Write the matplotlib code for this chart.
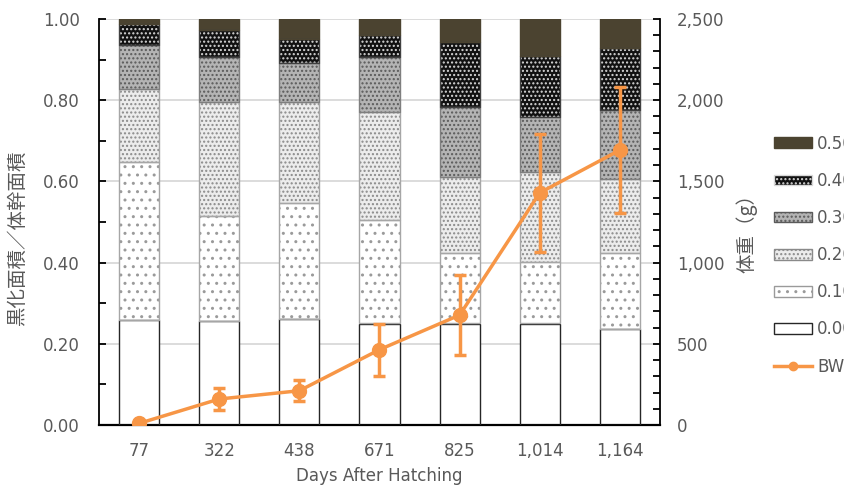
import matplotlib
matplotlib.use("Agg")
import matplotlib.pyplot as plt
import numpy as np
from matplotlib.ticker import MultipleLocator, FuncFormatter
from matplotlib.patches import Patch
from matplotlib.lines import Line2D

plt.rcParams['font.family'] = ['DejaVu Sans', 'Noto Sans CJK JP']
plt.rcParams['hatch.linewidth'] = 1.0

# data
days = ["77", "322", "438", "671", "825", "1,014", "1,164"]
r000 = [0.259, 0.256, 0.261, 0.250, 0.250, 0.250, 0.236]
r010 = [0.389, 0.260, 0.285, 0.255, 0.173, 0.151, 0.187]
r020 = [0.179, 0.280, 0.250, 0.267, 0.187, 0.223, 0.184]
r030 = [0.109, 0.111, 0.095, 0.135, 0.174, 0.135, 0.170]
r040 = [0.051, 0.067, 0.059, 0.054, 0.159, 0.150, 0.151]
r050 = [0.013, 0.026, 0.050, 0.039, 0.057, 0.091, 0.072]
bw = [10, 160, 211, 464, 677, 1430, 1693]
bw_err = [0, 65, 65, 160, 245, 363, 390]

series = [r000, r010, r020, r030, r040, r050]
names = ["0.00", "0.10", "0.20", "0.30", "0.40", "0.50"]
# face colour, hatch colour, hatch
styles = [
    ("white", "white", None),
    ("white", "#9a9a9a", ".."),
    ("#ececec", "#8a8a8a", "...."),
    ("#b4b4b4", "#5a5a5a", "...."),
    ("#111111", "#d8d8d8", "...."),
    ("#4b4330", "#4b4330", None),
]
edges = ["#262626", "#a6a6a6", "#a6a6a6", "#7f7f7f", "#404040", "#4b4330"]

txt = "#595959"
orange = "#F79646"
fs = 12
jp = ['Noto Sans CJK JP', 'DejaVu Sans']

fig = plt.figure(figsize=(8.45, 4.9), dpi=100)
ax = fig.add_axes([99/845, 1-425/490, 561/845, 406/490])
x = np.arange(len(days))

bottom = np.zeros(len(days))
for vals, (fc, hc, h), ec in zip(series, styles, edges):
    vals = np.array(vals)
    ax.bar(x, vals, 0.5, bottom=bottom, color=fc, edgecolor=hc, hatch=h,
           linewidth=0, zorder=2)
    ax.bar(x, vals, 0.5, bottom=bottom, fill=False, edgecolor=ec,
           linewidth=1.0, zorder=3)
    bottom += vals

ax.set_xlim(-0.5, 6.5)
ax.set_ylim(0, 1.0)
ax.yaxis.set_major_locator(MultipleLocator(0.2))
ax.yaxis.set_minor_locator(MultipleLocator(0.1))
ax.yaxis.set_major_formatter(FuncFormatter(lambda v, p: f"{v:.2f}"))
ax.grid(axis='y', color='#d9d9d9', linewidth=1.3, zorder=0)
ax.set_axisbelow(True)
ax.set_xticks(x)
ax.set_xticklabels(days)
ax.tick_params(axis='x', length=0, pad=12, labelsize=fs, labelcolor=txt)
ax.tick_params(axis='y', which='both', direction='in', length=5, width=1.3,
               pad=14, labelsize=fs, colors='black')
ax.tick_params(axis='y', labelcolor=txt)
for s in ['top', 'right']:
    ax.spines[s].set_visible(False)
ax.spines['left'].set_linewidth(1.3)
ax.spines['bottom'].set_linewidth(1.6)
ax.set_xlabel("Days After Hatching", fontsize=fs, color=txt, labelpad=5)
ax.set_ylabel("黒化面積／体幹面積", fontsize=14, color=txt, family=jp)
ax.yaxis.set_label_coords(-0.127, 0.46)

ax2 = ax.twinx()
ax2.errorbar(x, bw, yerr=bw_err, color=orange, linewidth=2.5, marker='o',
             markersize=10, elinewidth=2.5, capsize=4.5, capthick=2.5, zorder=5)
ax2.set_ylim(0, 2500)
ax2.yaxis.set_major_locator(MultipleLocator(500))
ax2.yaxis.set_minor_locator(MultipleLocator(100))
ax2.yaxis.set_major_formatter(FuncFormatter(lambda v, p: f"{int(v):,}"))
ax2.tick_params(axis='y', which='both', direction='in', length=5, width=1.3,
                pad=12, labelsize=fs, colors='black')
ax2.tick_params(axis='y', labelcolor=txt)
for s in ['top', 'left', 'bottom']:
    ax2.spines[s].set_visible(False)
ax2.spines['right'].set_linewidth(1.3)
ax2.set_ylabel("体重（g）", fontsize=14, color=txt, family=jp)
ax2.yaxis.set_label_coords(1.135, 0.485)

handles = []
for (fc, hc, h), ec, n in zip(styles[::-1], edges[::-1], names[::-1]):
    handles.append(Patch(facecolor=fc, edgecolor=hc if h else ec, hatch=h,
                         linewidth=1.0, label=n))
handles.append(Line2D([], [], color=orange, linewidth=2.5, marker='o',
                      markersize=6, label="BW"))
fig.legend(handles=handles, loc='upper left', bbox_to_anchor=(767/845, 1-128/490),
           frameon=False, fontsize=fs, handlelength=2.3, handleheight=0.6,
           labelspacing=1.15, handletextpad=0.3, labelcolor=txt, borderaxespad=0)

fig.savefig("out.png", dpi=100)
